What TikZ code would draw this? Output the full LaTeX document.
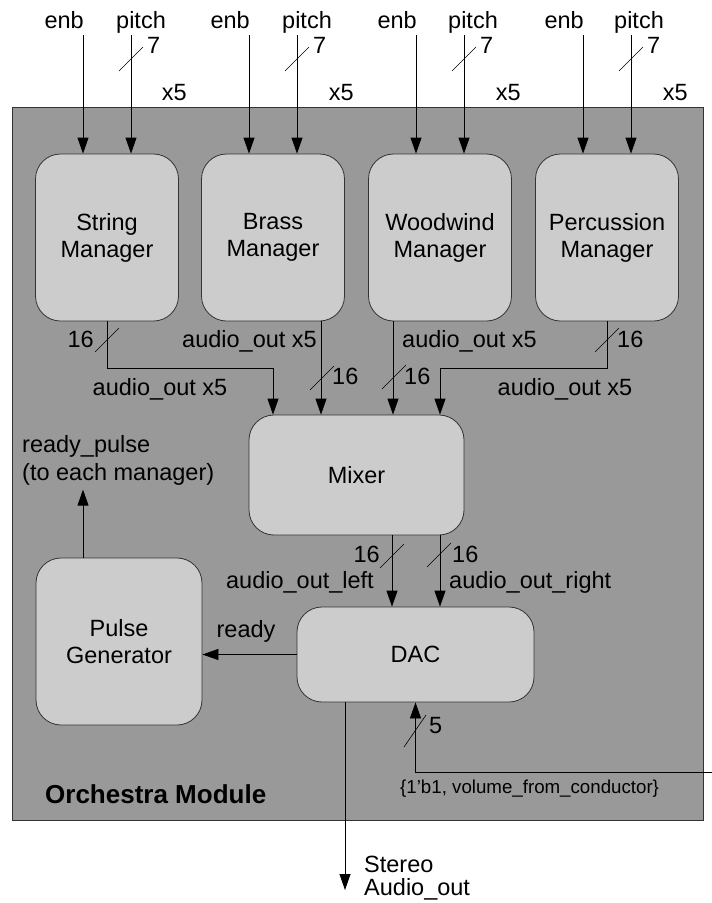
\documentclass[tikz,border=0pt]{standalone}
\usepackage{fontspec}
\setmainfont{Liberation Sans}
\usetikzlibrary{arrows.meta}
\definecolor{modulegray}{HTML}{999999}
\definecolor{blockgray}{HTML}{CCCCCC}
\definecolor{edgegray}{HTML}{333333}

\begin{document}
\begin{tikzpicture}[x=1pt,y=-1pt,
    blk/.style={draw=edgegray,fill=blockgray,rounded corners=25pt,line width=0.8pt,align=center,font=\fontsize{23.5}{27}\selectfont},
    wire/.style={draw=black,line width=0.8pt,-{Triangle[length=16pt,width=11pt]}},
    lbl/.style={font=\fontsize{23.5}{27}\selectfont,inner sep=0pt},
    slash/.style={draw=black,line width=0.6pt}]

    \useasboundingbox (0,0) rectangle (712,903);

    \node[draw=edgegray,fill=modulegray,line width=0.8pt,inner sep=0pt,minimum width=691pt,minimum height=713pt] (orch) at (357.5,463.5) {};

    % Managers
    \node[blk,minimum width=143pt,minimum height=167pt] (m1) at (107,237.5) {String\\Manager};
    \node[blk,minimum width=143pt,minimum height=167pt] (m2) at (273,237.5) {Brass\\Manager};
    \node[blk,minimum width=143pt,minimum height=167pt] (m3) at (440,237.5) {Woodwind\\Manager};
    \node[blk,minimum width=143pt,minimum height=167pt] (m4) at (607,237.5) {Percussion\\Manager};

    \node[blk,minimum width=215pt,minimum height=120pt] (mix) at (356.5,475) {Mixer};
    \node[blk,minimum width=237pt,minimum height=95pt] (dac) at (415.5,654.5) {DAC};
    \node[blk,minimum width=166pt,minimum height=167pt] (pg) at (119,641.5) {Pulse\\Generator};

    % enb / pitch inputs
    \coordinate (e1) at (83,35);  \coordinate (p1) at (131,35);
    \coordinate (e2) at (249,35); \coordinate (p2) at (297,35);
    \coordinate (e3) at (416,35); \coordinate (p3) at (464,35);
    \coordinate (e4) at (583,35); \coordinate (p4) at (631,35);
    \draw[wire] (e1) -- (e1 |- m1.north);
    \draw[wire] (p1) -- (p1 |- m1.north);
    \draw[wire] (e2) -- (e2 |- m2.north);
    \draw[wire] (p2) -- (p2 |- m2.north);
    \draw[wire] (e3) -- (e3 |- m3.north);
    \draw[wire] (p3) -- (p3 |- m3.north);
    \draw[wire] (e4) -- (e4 |- m4.north);
    \draw[wire] (p4) -- (p4 |- m4.north);

    \node[lbl,anchor=base east] (le1) at (84,28) {enb};
    \node[lbl,anchor=base west] (lp1) at (116,28) {pitch};
    \node[lbl,anchor=base east] (le2) at (250,28) {enb};
    \node[lbl,anchor=base west] (lp2) at (282,28) {pitch};
    \node[lbl,anchor=base east] (le3) at (417,28) {enb};
    \node[lbl,anchor=base west] (lp3) at (448,28) {pitch};
    \node[lbl,anchor=base east] (le4) at (584,28) {enb};
    \node[lbl,anchor=base west] (lp4) at (614,28) {pitch};

    \draw[slash] (119,71) -- (143,47);
    \draw[slash] (285,71) -- (309,47);
    \draw[slash] (452,71) -- (476,47);
    \draw[slash] (619,71) -- (643,47);
    \node[lbl,anchor=base west] (w1) at (147,53) {7};
    \node[lbl,anchor=base west] (w2) at (313,53) {7};
    \node[lbl,anchor=base west] (w3) at (480,53) {7};
    \node[lbl,anchor=base west] (w4) at (647,53) {7};

    \node[lbl,anchor=base east] (n1) at (187,100) {x5};
    \node[lbl,anchor=base east] (n2) at (354,100) {x5};
    \node[lbl,anchor=base east] (n3) at (521,100) {x5};
    \node[lbl,anchor=base east] (n4) at (688,100) {x5};

    % audio out to mixer
    \draw[wire] (m1.south) -- ++(0,47) -| ([xshift=-83.5pt]mix.north);
    \draw[wire] ([xshift=48pt]m2.south) -- ([xshift=48pt]m2.south |- mix.north);
    \draw[wire] ([xshift=-47pt]m3.south) -- ([xshift=-47pt]m3.south |- mix.north);
    \draw[wire] (m4.south) -- ++(0,47) -| ([xshift=83.5pt]mix.north);

    \draw[slash] (95,352) -- (119,328);
    \draw[slash] (310,390) -- (334,366);
    \draw[slash] (382,389) -- (406,365);
    \draw[slash] (595,352) -- (619,328);
    \node[lbl,anchor=base east] (b1) at (94,347) {16};
    \node[lbl,anchor=base west] (b2) at (332,384) {16};
    \node[lbl,anchor=base west] (b3) at (404,384) {16};
    \node[lbl,anchor=base west] (b4) at (617,347) {16};

    \node[lbl,anchor=base] (a1) at (160,395) {audio\_out x5};
    \node[lbl,anchor=base east] (a2) at (317,347) {audio\_out x5};
    \node[lbl,anchor=base west] (a3) at (402,347) {audio\_out x5};
    \node[lbl,anchor=base] (a4) at (565,395) {audio\_out x5};

    % mixer to DAC
    \draw[wire] ([xshift=35.5pt]mix.south) -- ([xshift=35.5pt]mix.south |- dac.north);
    \draw[wire] ([xshift=83.5pt]mix.south) -- ([xshift=83.5pt]mix.south |- dac.north);
    \draw[slash] (380,568) -- (404,544);
    \draw[slash] (427,567) -- (451,543);
    \node[lbl,anchor=base east] (bl) at (380,562) {16};
    \node[lbl,anchor=base west] (br) at (452,562) {16};
    \node[lbl,anchor=base east] (al) at (374,588) {audio\_out\_left};
    \node[lbl,anchor=base west] (ar) at (449,588) {audio\_out\_right};

    % ready
    \draw[wire] (dac.west) -- (dac.west -| pg.east);
    \node[lbl,anchor=base] (rdy) at (246,637) {ready};
    \draw[wire] ([xshift=-36pt]pg.north) -- ++(0,-68);
    \node[lbl,anchor=base west] (rp1) at (22,452) {ready\_pulse};
    \node[lbl,anchor=base west] (rp2) at (22,480) {(to each manager)};

    % volume in, stereo out
    \coordinate (vin) at (712,772);
    \draw[wire] (vin) -| (dac.south);
    \draw[slash] (404,747) -- (426,715);
    \node[lbl,anchor=base west] (v5) at (429,733) {5};
    \node[font=\fontsize{18.7}{22}\selectfont,inner sep=0pt,anchor=base west] (vol) at (400,793) {\{1'b1, volume\_from\_conductor\}};

    \coordinate (sout) at (345,890);
    \draw[wire] ([xshift=-70.5pt]dac.south) -- (sout);
    \node[lbl,anchor=base west] (st1) at (364,872) {Stereo};
    \node[lbl,anchor=base west] (st2) at (364,895) {Audio\_out};

    \node[font=\fontsize{26}{30}\selectfont\bfseries,inner sep=0pt,anchor=base west] (title) at (45,803) {Orchestra Module};
\end{tikzpicture}
\end{document}
